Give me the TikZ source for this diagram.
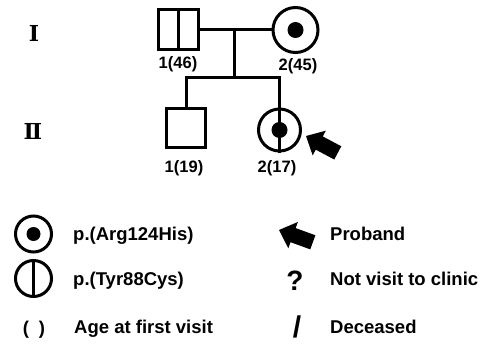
\documentclass[tikz,border=0pt]{standalone}
\usepackage{fontspec}
\setmainfont{Liberation Sans}
\newfontfamily\romfont{DejaVu Serif}
\begin{document}
\begin{tikzpicture}[x=1pt,y=-1pt,
  ln/.style={line width=3pt},
  sq/.style={draw, rectangle, line width=3pt, minimum size=#1, inner sep=0pt},
  circ/.style={draw, circle, line width=3pt, minimum size=#1, inner sep=0pt},
  dot/.style={fill, circle, minimum size=#1, inner sep=0pt},
  lab/.style={font=\fontsize{16.5}{16.5}\bfseries\selectfont, anchor=base, inner sep=0pt},
  leg/.style={font=\fontsize{18.5}{18.5}\bfseries\selectfont, anchor=base west, inner sep=0pt},
  gen/.style={font=\fontsize{22}{22}\romfont\bfseries\selectfont, inner sep=0pt},
  barrow/.pic={\fill (0,0) -- (15,14) -- (15,7.5) -- (36,7.5) -- (36,-7.5) -- (15,-7.5) -- (15,-14) -- cycle;}
]
\useasboundingbox (0,0) rectangle (482,345);
% generation labels
\node[gen] (gI) at (34,33) {Ⅰ};
\node[gen] (gII) at (33,131) {Ⅱ};
% generation I
\node[sq=40] (I1) at (178.5,30) {};
\draw[ln] (I1.north) -- (I1.south);
\node[circ=45] (I2) at (295.5,30) {};
\node[dot=16] (I2d) at (I2.center) {};
\draw[ln] (I1.east) -- (I2.west);
\coordinate (m) at (234,30);
\coordinate (s) at (234,78);
\draw[ln] (m) -- (s);
% generation II
\node[sq=39] (II1) at (186,128) {};
\node[circ=42] (II2) at (279.5,130) {};
\coordinate (sl) at (186,78);
\coordinate (sr) at (279.5,78);
\draw[ln] (II1.north) -- (sl) -- (sr) -- (II2.south);
\node[dot=16] (II2d) at (II2.center) {};
% labels
\node[lab] (l1) at (178,68.5) {1(46)};
\node[lab] (l2) at (298,70.5) {2(45)};
\node[lab] (l3) at (184,172) {1(19)};
\node[lab] (l4) at (277,172) {2(17)};
% proband arrow
\pic[rotate=-28] at (306,136) {barrow};
% legend
\node[circ=36] (L1) at (33.5,234) {};
\node[dot=14] (L1d) at (L1.center) {};
\node[circ=36] (L2) at (33.5,278.5) {};
\draw[ln] (L2.north) -- (L2.south);
\node[font=\fontsize{18.5}{18.5}\bfseries\selectfont, anchor=base, inner sep=0pt] (L3) at (34,334) {(\hspace{10pt})};
\node[leg] (t1) at (73,240) {p.(Arg124His)};
\node[leg] (t2) at (73,285) {p.(Tyr88Cys)};
\node[leg] (t3) at (74,333) {Age at first visit};
\pic[rotate=-20] at (279,230) {barrow};
\node[font=\fontsize{28}{28}\bfseries\selectfont, inner sep=0pt] (q) at (295,281) {?};
\node[font=\fontsize{30}{30}\bfseries\selectfont, inner sep=0pt] (sl2) at (297,327) {/};
\node[leg] (t4) at (330,240) {Proband};
\node[leg] (t5) at (330,285) {Not visit to clinic};
\node[leg] (t6) at (330,333) {Deceased};
\end{tikzpicture}
\end{document}
